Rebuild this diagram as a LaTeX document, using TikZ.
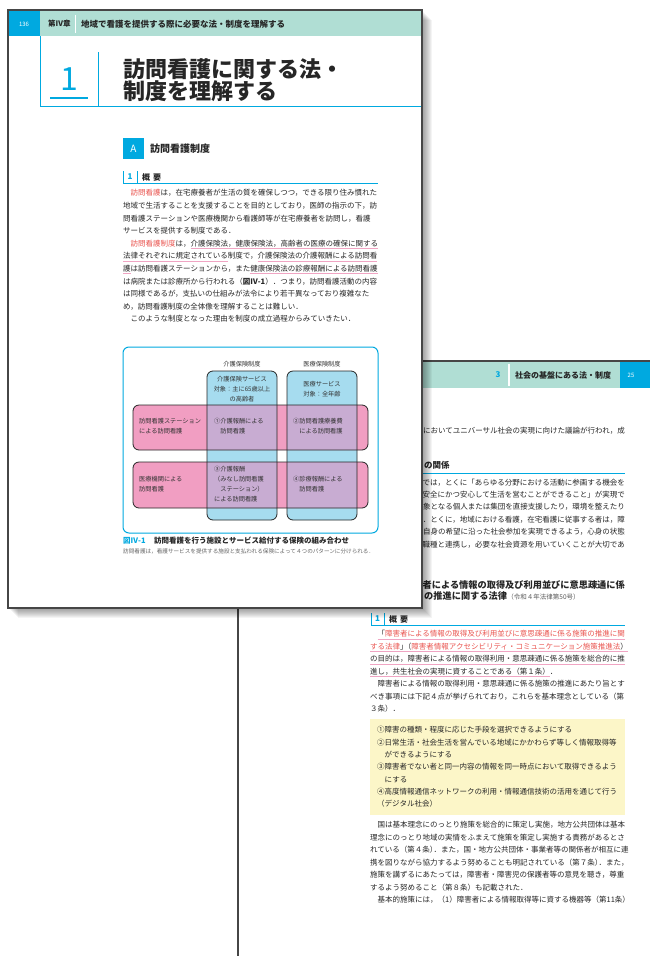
\documentclass[tikz,border=0pt]{standalone}
\usepackage{fontspec}
\setmainfont{Noto Sans CJK JP}

\definecolor{cyanb}{RGB}{0,169,224}
\definecolor{tealband}{RGB}{176,222,212}
\definecolor{bluef}{RGB}{166,220,239}
\definecolor{pinkf}{RGB}{241,158,194}
\definecolor{purplef}{RGB}{200,172,210}
\definecolor{redtxt}{RGB}{234,85,80}
\definecolor{pinkline}{RGB}{240,165,195}
\definecolor{yellowf}{RGB}{252,246,200}
\definecolor{edge}{RGB}{70,70,70}

\newcommand\hlred[1]{\textcolor{redtxt}{#1}}
\newcommand\pkul[1]{\setbox0\hbox{#1}\rlap{\textcolor{pinkline}{\rule[-2.6pt]{\wd0}{0.8pt}}}\box0}

\begin{document}
\begin{tikzpicture}[x=1pt,y=-1pt,
        body/.style={anchor=base west, inner sep=0pt, text=black!85, font=\fontsize{7.5}{9}\selectfont},
        bodyr/.style={body, anchor=base east},
        figtxt/.style={inner sep=0pt, text=black!80, font=\fontsize{6.2}{10}\selectfont},
        hd/.style={inner sep=0pt, text=black!85, font=\bfseries\fontsize{8}{9}\selectfont},
        boxline/.style={draw=black!85, line width=0.8pt, rounded corners=6pt},
        pageedge/.style={fill=white, draw=edge, line width=1.5pt}]
        \clip (0,0) rectangle (650,956);
        \fill[white] (0,0) rectangle (650,956);

        \filldraw[pageedge] (238,361) rectangle (670,976);
        \fill[tealband] (239,362) rectangle (670,388);
        \fill[cyanb] (620,362) rectangle (670,388);
        \node[text=cyanb, font=\bfseries\fontsize{8}{9}\selectfont] (b3) at (498,375) {3};
        \draw[white, line width=1.2pt] (509,364) -- (509,386);
        \node[hd, anchor=west] (bt) at (515,375) {社会の基盤にある法・制度};
        \node[text=white, font=\fontsize{6}{7}\selectfont] (bp) at (631,375) {25};

        \node[bodyr] (q1) at (625,433.8) {においてユニバーサル社会の実現に向けた議論が行われ，成};
        \node[hd, anchor=base west, font=\bfseries\fontsize{8.5}{10}\selectfont] (q2) at (424,468) {の関係};
        \draw[cyanb, line width=0.8pt] (400,473) -- (625,473);
        \node[bodyr] (q3) at (625,485.8) {では，とくに「あらゆる分野における活動に参画する機会を};
        \node[bodyr] (q4) at (625,497.8) {「安全にかつ安心して生活を営むことができること」が実現で};
        \node[bodyr] (q5) at (625,509.8) {象となる個人または集団を直接支援したり，環境を整えたり};
        \node[bodyr] (q6) at (625,522.8) {．とくに，地域における看護，在宅看護に従事する者は，障};
        \node[bodyr] (q7) at (625,534.8) {自身の希望に沿った社会参加を実現できるよう，心身の状態};
        \node[bodyr] (q8) at (625,547.8) {職種と連携し，必要な社会資源を用いていくことが大切であ};
        \node[hd, anchor=base east, font=\bfseries\fontsize{9.2}{11}\selectfont] (q9) at (625,588.3) {者による情報の取得及び利用並びに意思疎通に係};
        \node[hd, anchor=base west, font=\bfseries\fontsize{9.2}{11}\selectfont] (q10) at (424,599.3) {の推進に関する法律};
        \node[anchor=base west, inner sep=0pt, text=black!65, font=\fontsize{6.5}{8}\selectfont] (q11) at (q10.base east) {（令和４年法律第50号）};

        \draw[cyanb, line width=0.8pt] (371,613) -- (371,625) -- (625,625);
        \draw[cyanb, line width=0.8pt] (384,613) -- (384,625);
        \node[hd, text=cyanb] (u1) at (377.5,619) {1};
        \node[hd, anchor=west] (u1t) at (389,619) {概\hspace{3pt}要};
        \node[body] (r1) at (370,636.8) {　\pkul{「\hlred{障害者による情報の取得及び利用並びに意思疎通に係る施策の推進に関}}};
        \node[body] (r2) at (370,649.3) {\pkul{\hlred{する法律}」\kern-3.75pt（\hlred{障害者情報アクセシビリティ・コミュニケーション施策推進法}）}};
        \node[body] (r3) at (370,661.8) {\pkul{の目的は，障害者による情報の取得利用・意思疎通に係る施策を総合的に推}};
        \node[body] (r4) at (370,674.3) {\pkul{進し，共生社会の実現に資することである（第１条）}．};
        \node[body] (r5) at (370,686.8) {　障害者による情報の取得利用・意思疎通に係る施策の推進にあたり旨とす};
        \node[body] (r6) at (370,699.3) {べき事項には下記４点が挙げられており，これらを基本理念としている（第};
        \node[body] (r7) at (370,711.8) {３条）．};

        \fill[yellowf] (370,719) rectangle (625,815);
        \node[body] (y1) at (377,732.8) {①障害の種類・程度に応じた手段を選択できるようにする};
        \node[body] (y2) at (377,745.1) {②日常生活・社会生活を営んでいる地域にかかわらず等しく情報取得等};
        \node[body] (y3) at (377,757.4) {　ができるようにする};
        \node[body] (y4) at (377,769.7) {③障害者でない者と同一内容の情報を同一時点において取得できるよう};
        \node[body] (y5) at (377,782.0) {　にする};
        \node[body] (y6) at (377,794.3) {④高度情報通信ネットワークの利用・情報通信技術の活用を通じて行う};
        \node[body] (y7) at (377,806.6) {（デジタル社会）};

        \node[body] (s1) at (370,827.8) {　国は基本理念にのっとり施策を総合的に策定し実施，地方公共団体は基本};
        \node[body] (s2) at (370,840.3) {理念にのっとり地域の実情をふまえて施策を策定し実施する責務があるとさ};
        \node[body] (s3) at (370,852.8) {れている（第４条）\kern-3.75pt．また，国・地方公共団体・事業者等の関係者が相互に連};
        \node[body] (s4) at (370,865.3) {携を図りながら協力するよう努めることも明記されている（第７条）\kern-3.75pt．また，};
        \node[body] (s5) at (370,877.8) {施策を講ずるにあたっては，障害者・障害児の保護者等の意見を聴き，尊重};
        \node[body] (s6) at (370,890.3) {するよう努めること（第８条）も記載された．};
        \node[body] (s7) at (370,902.8) {　基本的施策には，（1）障害者による情報取得等に資する機器等（第11条）};

        \foreach \s in {1,...,10}
            \fill[black, opacity=0.045] (8+\s,10+\s) rectangle (422+\s,608+\s);
        \filldraw[pageedge] (8,10) rectangle (422,608);

        \fill[tealband] (9,11) rectangle (421,36);
        \fill[cyanb] (9,11) rectangle (40,36);
        \node[text=white, font=\fontsize{6}{7}\selectfont] (pg) at (24,24) {136};
        \node[hd, anchor=west, font=\bfseries\fontsize{7.5}{9}\selectfont] (ch) at (48,24) {第Ⅳ章};
        \draw[white, line width=1pt] (75,15) -- (75,33);
        \node[hd, anchor=west, font=\bfseries\fontsize{8.5}{10}\selectfont] (ct) at (81,24) {地域で看護を提供する際に必要な法・制度を理解する};

        \draw[cyanb, line width=1pt] (40,36) -- (40,106) -- (421,106);
        \draw[cyanb, line width=1pt] (98,52) -- (98,106);
        \node[text=cyanb, font=\fontsize{32}{34}\selectfont] (n1) at (69,79) {1};
        \draw[cyanb, line width=1.2pt] (50,98) -- (88,98);
        \node[hd, anchor=west, font=\bfseries\fontsize{22}{24}\selectfont] (t1) at (123,69) {訪問看護に関する法・};
        \node[hd, anchor=west, font=\bfseries\fontsize{22}{24}\selectfont] (t2) at (123,91) {制度を理解する};

        \node[fill=cyanb, text=white, minimum size=21pt, inner sep=0pt, font=\fontsize{10}{12}\selectfont] (sa) at (133.5,148.5) {A};
        \node[hd, anchor=west, font=\bfseries\fontsize{10}{12}\selectfont] (sat) at (150,149) {訪問看護制度};

        \draw[cyanb, line width=0.8pt] (123,171) -- (123,183) -- (378,183);
        \draw[cyanb, line width=0.8pt] (137,171) -- (137,183);
        \node[hd, text=cyanb] (o1) at (130,177) {1};
        \node[hd, anchor=west] (o1t) at (142,177) {概\hspace{3pt}要};

        \node[body] (p1) at (123,195.8) {　\hlred{訪問看護}は，在宅療養者が生活の質を確保しつつ，できる限り住み慣れた};
        \node[body] (p2) at (123,208.4) {地域で生活することを支援することを目的としており，医師の指示の下，訪};
        \node[body] (p3) at (123,221.0) {問看護ステーションや医療機関から看護師等が在宅療養者を訪問し，看護};
        \node[body] (p4) at (123,233.6) {サービスを提供する制度である．};
        \node[body] (p5) at (123,246.2) {　\hlred{訪問看護制度}は，\pkul{介護保険法，健康保険法，高齢者の医療の確保に関する}};
        \node[body] (p6) at (123,258.8) {\pkul{法律それぞれに規定されている}制度で，\pkul{介護保険法の介護報酬による訪問看}};
        \node[body] (p7) at (123,271.4) {\pkul{護}は訪問看護ステーションから，また\pkul{健康保険法の診療報酬による訪問看護}};
        \node[body] (p8) at (123,284.0) {は病院または診療所から行われる（{\bfseries 図Ⅳ-1}）．つまり，訪問看護活動の内容};
        \node[body] (p9) at (123,296.6) {は同様であるが，支払いの仕組みが法令により若干異なっており複雑なた};
        \node[body] (p10) at (123,309.2) {め，訪問看護制度の全体像を理解することは難しい．};
        \node[body] (p11) at (123,321.8) {　このような制度となった理由を制度の成立過程からみていきたい．};

        \draw[cyanb, line width=1pt, rounded corners=6pt] (123,347) rectangle (378,533);
        \node[figtxt] (k0) at (242,364) {介護保険制度};
        \node[figtxt] (m0) at (322,364) {医療保険制度};
        \fill[bluef, rounded corners=6pt] (207,371) rectangle (277,520);
        \fill[bluef, rounded corners=6pt] (287,371) rectangle (357,520);
        \fill[pinkf, rounded corners=6pt] (133,405) rectangle (368,450);
        \fill[pinkf, rounded corners=6pt] (133,462) rectangle (368,508);
        \fill[purplef] (207,405) rectangle (277,450);
        \fill[purplef] (287,405) rectangle (357,450);
        \fill[purplef] (207,462) rectangle (277,508);
        \fill[purplef] (287,462) rectangle (357,508);
        \draw[boxline] (207,371) rectangle (277,520);
        \draw[boxline] (287,371) rectangle (357,520);
        \draw[boxline] (133,405) rectangle (368,450);
        \draw[boxline] (133,462) rectangle (368,508);

        \node[figtxt, align=center] (k1) at (242,389.5) {介護保険サービス\\対象：主に65歳以上\\の高齢者};
        \node[figtxt, align=center] (m1) at (322,389) {医療サービス\\対象：全年齢};
        \node[figtxt, align=left, anchor=west] (w1) at (139,426.5) {訪問看護ステーション\\による訪問看護};
        \node[figtxt, align=left, anchor=west] (x11) at (214,426.5) {①介護報酬による\\　訪問看護};
        \node[figtxt, align=left, anchor=west] (x12) at (293,426.5) {②訪問看護療養費\\　による訪問看護};
        \node[figtxt, align=left, anchor=west] (w2) at (139,484) {医療機関による\\訪問看護};
        \node[figtxt, align=left, anchor=west] (x21) at (214,484) {③介護報酬\\（みなし訪問看護\\　ステーション）\\による訪問看護};
        \node[figtxt, align=left, anchor=west] (x22) at (293,484) {④診療報酬による\\　訪問看護};

        \node[anchor=base west, inner sep=0pt, text=cyanb, font=\bfseries\fontsize{7.5}{9}\selectfont] (cp) at (123,543.8) {図Ⅳ-1};
        \node[hd, anchor=base west, font=\bfseries\fontsize{7.5}{9}\selectfont] (cpt) at (154,543.8) {訪問看護を行う施設とサービス給付する保険の組み合わせ};
        \node[anchor=base west, inner sep=0pt, text=black!60, font=\fontsize{5.6}{7}\selectfont] (cps) at (123,553.5) {訪問看護は，看護サービスを提供する施設と支払われる保険によって４つのパターンに分けられる．};
    \end{tikzpicture}
\end{document}
